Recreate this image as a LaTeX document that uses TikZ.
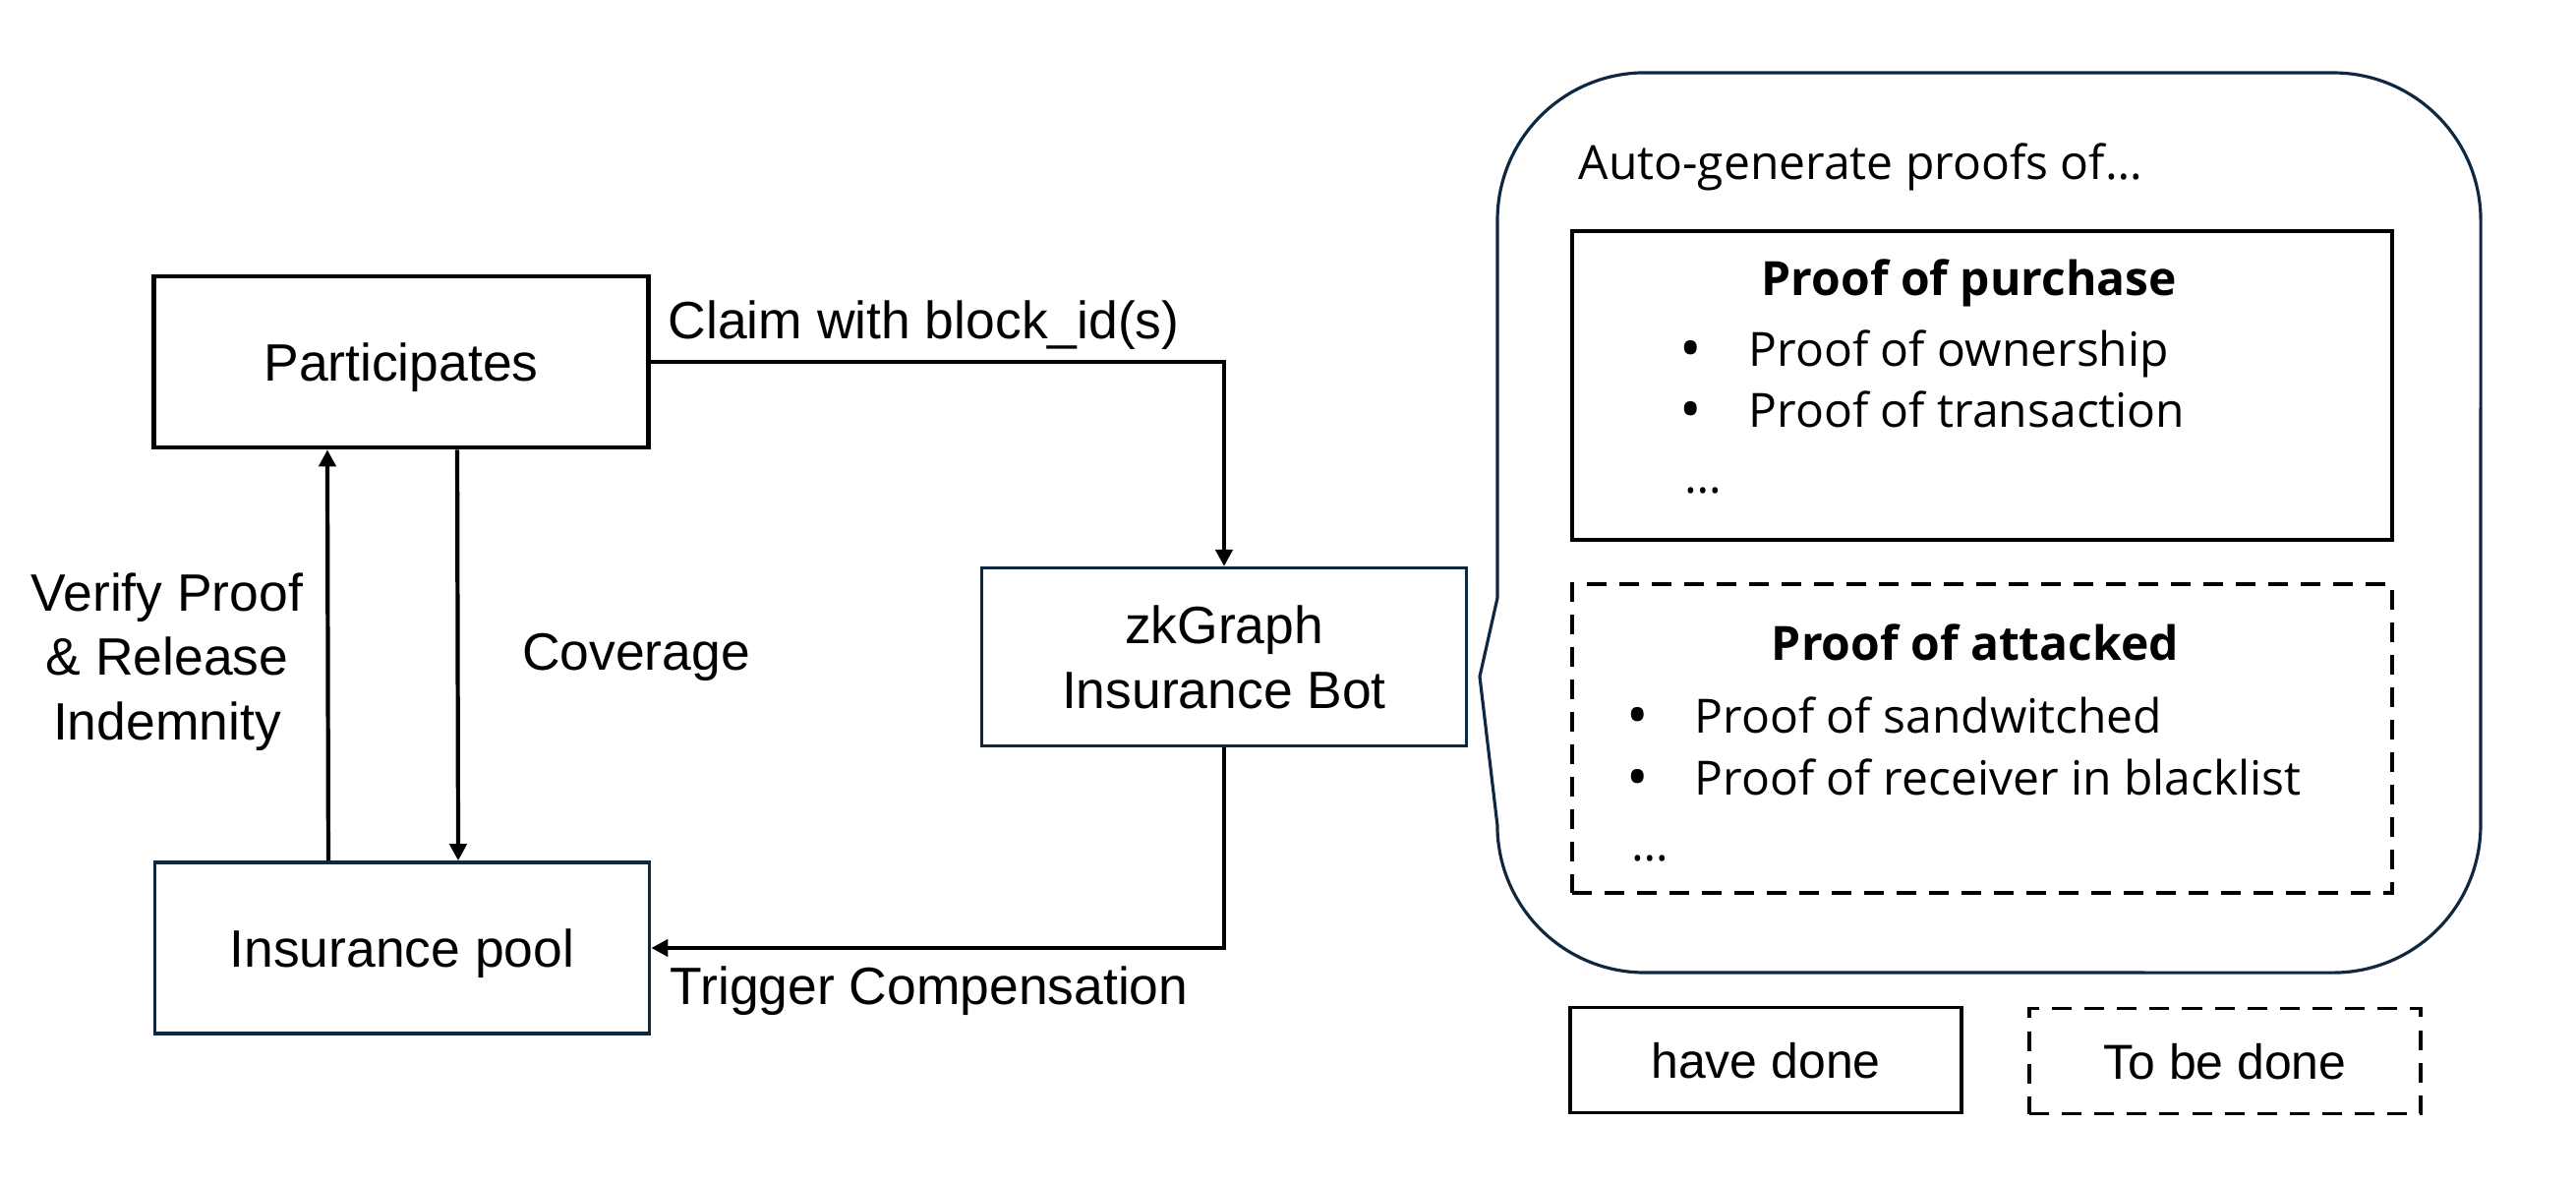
\documentclass[tikz,border=0pt]{standalone}
\usepackage{fontspec}
\setmainfont{Liberation Sans}
\newfontfamily\aptos{Open Sans}
\usepackage{tikz}
\usetikzlibrary{arrows.meta}
\usetikzlibrary{positioning}
\definecolor{navy}{HTML}{0E2841}

\begin{document}
\begin{tikzpicture}[x=0.01cm, y=-0.01cm,
	every node/.style={inner sep=0pt, font=\fontsize{15.2}{18.6}\selectfont},
	box/.style={draw, text depth=0pt, minimum width=5.03cm, minimum height=1.74cm},
	proofbox/.style={draw, line width=1.1pt, minimum width=8.34cm, minimum height=3.14cm},
	keybox/.style={draw, line width=1.1pt, text depth=0pt, minimum width=3.97cm, minimum height=1.07cm, font=\fontsize{14.2}{17}\selectfont},
	todo/.style={dash pattern=on 0.2cm off 0.13cm},
	txt/.style={anchor=base west, font=\aptos\fontsize{13.65}{16}\selectfont},
	bullet/.style={anchor=base, font=\aptos\fontsize{17}{16}\selectfont},
	link/.style={line width=1.2pt, -{Triangle[length=0.17cm, width=0.17cm]}}]
	\useasboundingbox (0,0) rectangle (2620,1202);
	\node[box, line width=1.3pt] (part) at (408,368) {Participates};
	\node[box, draw=navy, line width=1pt] (pool) at (409,964) {Insurance pool};
	\node[box, draw=navy, line width=0.9pt, minimum width=4.92cm, minimum height=1.81cm, align=center] (bot) at (1245,668) {zkGraph\\Insurance Bot};
	\draw[link] (part.east) -| (bot.north);
	\draw[link] (bot.south) |- (pool.east);
	\draw[link] ([xshift=-0.75cm]pool.north) -- ([xshift=-0.75cm]part.south);
	\draw[link] ([xshift=0.57cm]part.south) -- ([xshift=0.57cm]pool.north);
	\node[anchor=base west] (claim) at (679,344) {Claim with block\_id(s)};
	\node[anchor=base west] (trigger) at (681,1021) {Trigger Compensation};
	\node[anchor=base] (cover) at (647,681) {Coverage};
	\node[align=center] (verify) at (170,673) {Verify Proof\\\& Release\\Indemnity};
	\draw[navy, line width=0.9pt] (1523,608) -- (1523,224) arc[start angle=180, end angle=90, radius=1.5cm]
		-- (2373,74) arc[start angle=90, end angle=0, radius=1.5cm]
		-- (2523,839) arc[start angle=0, end angle=-90, radius=1.5cm]
		-- (1673,989) arc[start angle=-90, end angle=-180, radius=1.5cm]
		-- (1505,688) -- cycle;
	\node[txt] (auto) at (1605,182) {Auto-generate proofs of…};
	\node[proofbox] (purchase) at (2016,392) {};
	\node[proofbox, todo] (attacked) at (2016,751) {};
	\node[txt, anchor=base, font=\aptos\bfseries\fontsize{13.65}{16}\selectfont] (purchasetitle) at (2003,300) {Proof of purchase};
	\node[bullet] (dot1) at (1720,375) {•};
	\node[txt] (own) at (1778,372) {Proof of ownership};
	\node[bullet] (dot2) at (1720,437) {•};
	\node[txt] (trans) at (1778,434) {Proof of transaction};
	\node[txt] (more1) at (1713,501) {…};
	\node[txt, anchor=base, font=\aptos\bfseries\fontsize{13.65}{16}\selectfont] (attackedtitle) at (2009,671) {Proof of attacked};
	\node[bullet] (dot3) at (1666,748) {•};
	\node[txt] (sand) at (1723,745) {Proof of sandwitched};
	\node[bullet] (dot4) at (1666,811) {•};
	\node[txt] (black) at (1723,808) {Proof of receiver in blacklist};
	\node[txt] (more2) at (1659,875) {…};
	\node[keybox] (done) at (1796,1078) {have done};
	\node[keybox, todo] (tobe) at (2263,1079) {To be done};
\end{tikzpicture}
\end{document}
